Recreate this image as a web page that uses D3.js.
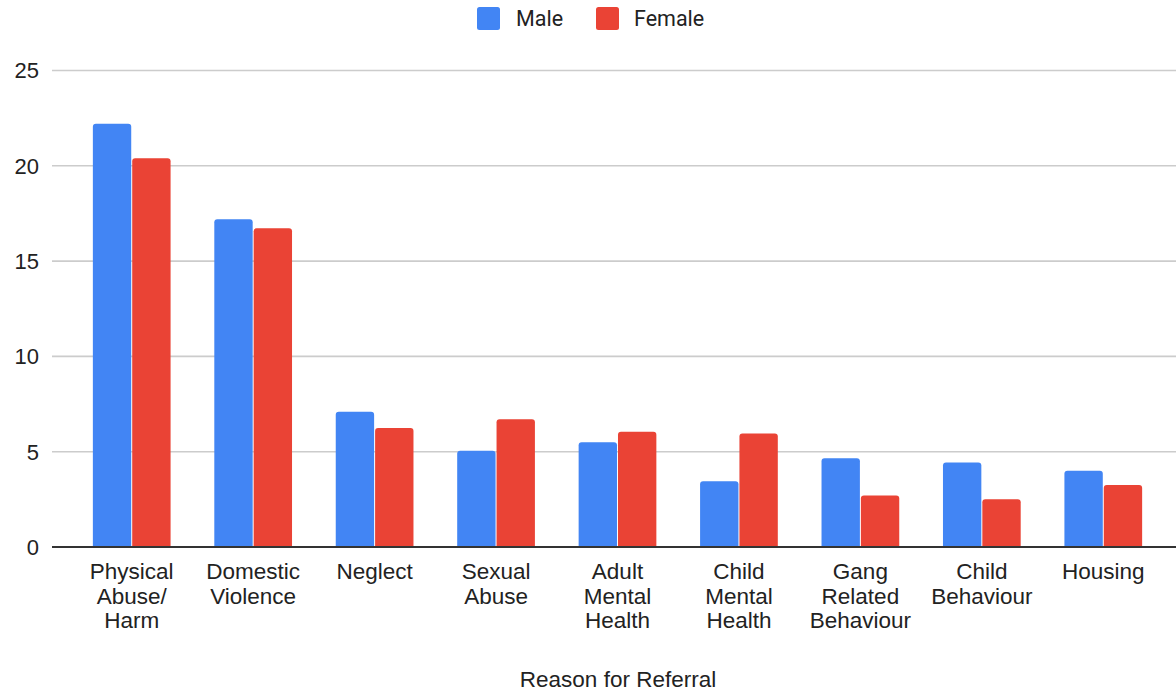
<!DOCTYPE html>
<html>
<head>
<meta charset="utf-8">
<script src="https://cdn.jsdelivr.net/npm/d3@7"></script>
<style>
  body { margin: 0; background: #fff; }
  svg { display: block; }
  .tick-label { font-family: "Liberation Sans", Arial, sans-serif; font-size: 22px; fill: #222; }
  .cat-label { font-family: "Liberation Sans", Arial, sans-serif; font-size: 22.5px; fill: #222; }
  .legend-label { font-family: Roboto, "Liberation Sans", sans-serif; font-size: 21.5px; fill: #222; }
</style>
</head>
<body>
<svg id="chart"></svg>
<script>
// chart data
const categories = [
    ['Physical', 'Abuse/', 'Harm'],
    ['Domestic', 'Violence'],
    ['Neglect'],
    ['Sexual', 'Abuse'],
    ['Adult', 'Mental', 'Health'],
    ['Child', 'Mental', 'Health'],
    ['Gang', 'Related', 'Behaviour'],
    ['Child', 'Behaviour'],
    ['Housing']
];
const seriesNames = ['Male', 'Female'];
const maleValues = [22.2, 17.2, 7.1, 5.05, 5.5, 3.45, 4.65, 4.43, 4.0];
const femaleValues = [20.4, 16.72, 6.25, 6.7, 6.05, 5.95, 2.7, 2.5, 3.25];
const yTicks = [0, 5, 10, 15, 20, 25];
const xTitle = 'Reason for Referral';

const colors = { Male: '#4285F4', Female: '#EA4335' };

const W = 1176, H = 692;
const svg = d3.select('#chart').attr('width', W).attr('height', H);

const keys = categories.map(c => c.join(' '));
const rows = keys.map((k, i) => ({ key: k, Male: maleValues[i], Female: femaleValues[i] }));

const x0 = d3.scaleBand()
    .domain(keys)
    .range([71, 1164])
    .paddingInner(0.36)
    .paddingOuter(0.18);

const x1 = d3.scaleBand()
    .domain(seriesNames)
    .range([0, x0.bandwidth()])
    .paddingInner(0.025);

const y = d3.scaleLinear()
    .domain([0, 25])
    .range([547, 70.5]);

// gridlines
svg.append('g')
    .selectAll('line')
    .data(yTicks.filter(t => t > 0))
    .enter()
    .append('line')
    .attr('x1', 52)
    .attr('x2', W)
    .attr('y1', d => y(d))
    .attr('y2', d => y(d))
    .attr('stroke', '#cccccc')
    .attr('stroke-width', 1.6);

// y tick labels
svg.append('g')
    .selectAll('text')
    .data(yTicks)
    .enter()
    .append('text')
    .attr('class', 'tick-label')
    .attr('x', 39)
    .attr('y', d => y(d))
    .attr('dy', '0.36em')
    .attr('text-anchor', 'end')
    .text(d => d);

// bars with rounded top corners
function barPath(x, top, w, bottom, r) {
    r = Math.min(r, (bottom - top), w / 2);
    return `M${x},${bottom}V${top + r}Q${x},${top} ${x + r},${top}H${x + w - r}Q${x + w},${top} ${x + w},${top + r}V${bottom}Z`;
}

const groups = svg.append('g')
    .selectAll('g')
    .data(rows)
    .enter()
    .append('g')
    .attr('transform', d => `translate(${x0(d.key)},0)`);

groups.selectAll('path')
    .data(d => seriesNames.map(s => ({ series: s, value: d[s] })))
    .enter()
    .append('path')
    .attr('d', d => barPath(x1(d.series), y(d.value), x1.bandwidth(), y(0), 3))
    .attr('fill', d => colors[d.series]);

// baseline
svg.append('line')
    .attr('x1', 52)
    .attr('x2', W)
    .attr('y1', y(0))
    .attr('y2', y(0))
    .attr('stroke', '#333')
    .attr('stroke-width', 2);

// category labels
const catG = svg.append('g')
    .selectAll('text')
    .data(categories)
    .enter()
    .append('text')
    .attr('class', 'cat-label')
    .attr('text-anchor', 'middle')
    .attr('x', (d, i) => x0(keys[i]) + x0.bandwidth() / 2)
    .attr('y', 579);

catG.selectAll('tspan')
    .data((d, i) => d.map(line => ({ line, i })))
    .enter()
    .append('tspan')
    .attr('x', d => x0(keys[d.i]) + x0.bandwidth() / 2)
    .attr('dy', (d, j) => j === 0 ? 0 : 24.6)
    .text(d => d.line);

// x axis title
svg.append('text')
    .attr('class', 'cat-label')
    .attr('x', 618)
    .attr('y', 687)
    .attr('text-anchor', 'middle')
    .text(xTitle);

// legend
const legendPos = [{ name: 'Male', sx: 477, tx: 516 }, { name: 'Female', sx: 596, tx: 634 }];
const legend = svg.append('g')
    .selectAll('g')
    .data(legendPos)
    .enter()
    .append('g');

legend.append('rect')
    .attr('x', d => d.sx)
    .attr('y', 7)
    .attr('width', 23)
    .attr('height', 23)
    .attr('rx', 2.5)
    .attr('fill', d => colors[d.name]);

legend.append('text')
    .attr('class', 'legend-label')
    .attr('x', d => d.tx)
    .attr('y', 18.5)
    .attr('dy', '0.36em')
    .text(d => d.name);
</script>
</body>
</html>
